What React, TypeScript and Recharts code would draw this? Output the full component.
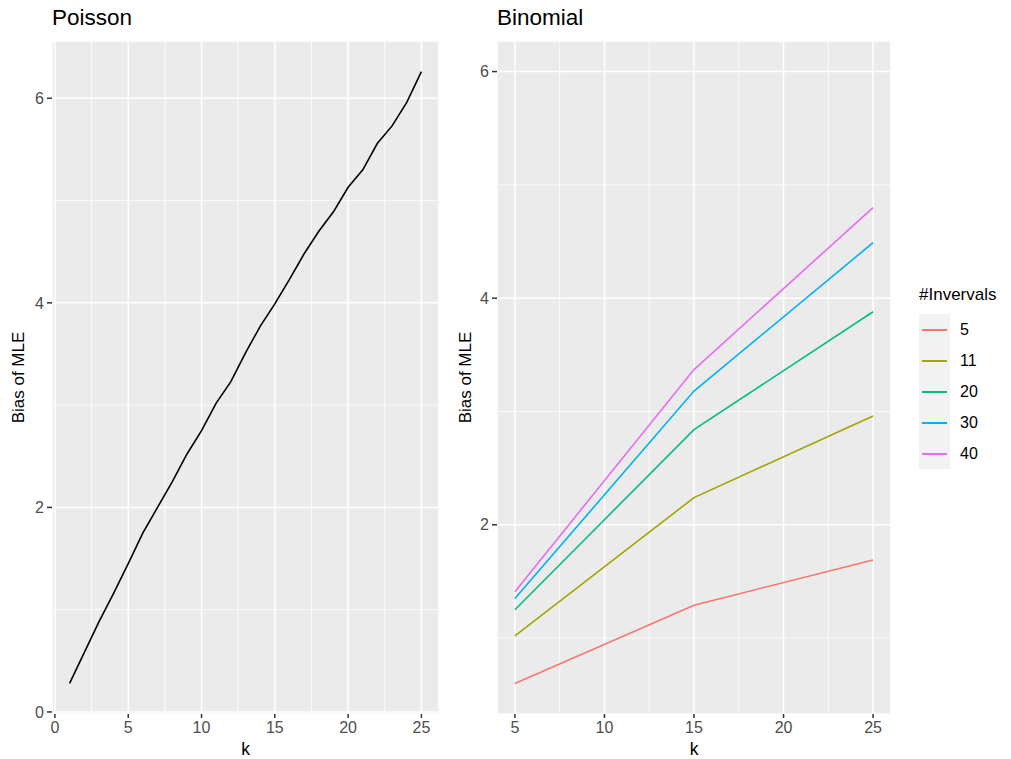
import React from "react";
import {
  LineChart,
  Line,
  XAxis,
  YAxis,
  CartesianGrid,
  ReferenceLine,
} from "recharts";

// Poisson panel
const poissonK = [1, 2, 3, 4, 5, 6, 7, 8, 9, 10, 11, 12, 13, 14, 15, 16, 17, 18, 19, 20, 21, 22, 23, 24, 25];
const poissonBias = [
  0.28, 0.58, 0.88, 1.16, 1.45, 1.75, 2.0, 2.25, 2.52, 2.75, 3.02, 3.23, 3.51,
  3.77, 3.99, 4.23, 4.48, 4.7, 4.89, 5.13, 5.3, 5.56, 5.73, 5.96, 6.26,
];

// Binomial panel
const binomK = [5, 15, 25];
const intervals = ["5", "11", "20", "30", "40"];
const bias5 = [0.6, 1.29, 1.69];
const bias11 = [1.02, 2.24, 2.96];
const bias20 = [1.25, 2.84, 3.88];
const bias30 = [1.35, 3.18, 4.49];
const bias40 = [1.41, 3.37, 4.8];
const intervalColors = ["#F8766D", "#A3A500", "#00BF7D", "#00B0F6", "#E76BF3"];

const poissonTicksX = [0, 5, 10, 15, 20, 25];
const poissonTicksY = [0, 2, 4, 6];
const poissonMinorX = [2.5, 7.5, 12.5, 17.5, 22.5];
const poissonMinorY = [1, 3, 5];
const binomTicksX = [5, 10, 15, 20, 25];
const binomTicksY = [2, 4, 6];
const binomMinorX = [7.5, 12.5, 17.5, 22.5];
const binomMinorY = [1, 3, 5];

const poissonData = poissonK.map((k, i) => ({ k, bias: poissonBias[i] }));
const binomSeries = [bias5, bias11, bias20, bias30, bias40];
const binomData = binomK.map((k, i) => {
  const row: Record<string, number> = { k };
  intervals.forEach((name, j) => {
    row["n" + name] = binomSeries[j][i];
  });
  return row;
});

const FONT = "'Liberation Sans', Arial, Helvetica, sans-serif";
const tickStyle = { fill: "#4D4D4D", fontSize: 16, fontFamily: FONT };
const tickLineStyle = { stroke: "#333333", strokeWidth: 1.5 };

const yLabel = (props: any) => {
  const vb = props.viewBox;
  const cx = vb.x + 18;
  const cy = vb.y + vb.height / 2;
  return (
    <text
      x={cx}
      y={cy}
      transform={`rotate(-90, ${cx}, ${cy})`}
      textAnchor="middle"
      dominantBaseline="central"
      fill="#000"
      fontSize={17}
      fontFamily={FONT}
    >
      Bias of MLE
    </text>
  );
};

const xLabel = (props: any) => {
  const vb = props.viewBox;
  return (
    <text
      x={vb.x + vb.width / 2}
      y={vb.y + 41}
      textAnchor="middle"
      fill="#000"
      fontSize={17.5}
      fontFamily={FONT}
    >
      k
    </text>
  );
};

function PoissonPanel() {
  return (
    <LineChart
      width={447}
      height={759}
      data={poissonData}
      margin={{ top: 41, right: 8, bottom: 0, left: 0 }}
    >
      <CartesianGrid fill="#EBEBEB" stroke="#FFFFFF" strokeWidth={1.5} />
      {poissonMinorX.map((v) => (
        <ReferenceLine key={"mx" + v} x={v} stroke="#FFFFFF" strokeWidth={0.8} />
      ))}
      {poissonMinorY.map((v) => (
        <ReferenceLine key={"my" + v} y={v} stroke="#FFFFFF" strokeWidth={0.8} />
      ))}
      <XAxis
        dataKey="k"
        type="number"
        domain={[-0.2, 26.2]}
        ticks={poissonTicksX}
        allowDataOverflow
        height={45}
        axisLine={false}
        tickSize={4}
        tickMargin={4}
        tick={tickStyle}
        tickLine={tickLineStyle}
        label={{ content: xLabel }}
      />
      <YAxis
        type="number"
        domain={[-0.02, 6.56]}
        ticks={poissonTicksY}
        allowDataOverflow
        width={52}
        axisLine={false}
        tickSize={5}
        tickMargin={3}
        tick={tickStyle}
        tickLine={tickLineStyle}
        label={{ content: yLabel }}
      />
      <Line
        dataKey="bias"
        stroke="#000000"
        strokeWidth={1.6}
        dot={false}
        isAnimationActive={false}
      />
    </LineChart>
  );
}

function BinomialPanel() {
  return (
    <LineChart
      width={564}
      height={759}
      data={binomData}
      margin={{ top: 41, right: 120, bottom: 0, left: 0 }}
    >
      <CartesianGrid fill="#EBEBEB" stroke="#FFFFFF" strokeWidth={1.5} />
      {binomMinorX.map((v) => (
        <ReferenceLine key={"mx" + v} x={v} stroke="#FFFFFF" strokeWidth={0.8} />
      ))}
      {binomMinorY.map((v) => (
        <ReferenceLine key={"my" + v} y={v} stroke="#FFFFFF" strokeWidth={0.8} />
      ))}
      <XAxis
        dataKey="k"
        type="number"
        domain={[4, 26]}
        ticks={binomTicksX}
        allowDataOverflow
        height={45}
        axisLine={false}
        tickSize={4}
        tickMargin={4}
        tick={tickStyle}
        tickLine={tickLineStyle}
        label={{ content: xLabel }}
      />
      <YAxis
        type="number"
        domain={[0.33, 6.27]}
        ticks={binomTicksY}
        allowDataOverflow
        width={50}
        axisLine={false}
        tickSize={5}
        tickMargin={3}
        tick={tickStyle}
        tickLine={tickLineStyle}
        label={{ content: yLabel }}
      />
      {intervals.map((name, j) => (
        <Line
          key={name}
          dataKey={"n" + name}
          stroke={intervalColors[j]}
          strokeWidth={1.6}
          dot={false}
          isAnimationActive={false}
        />
      ))}
    </LineChart>
  );
}

function IntervalLegend() {
  return (
    <div style={{ position: "absolute", left: 919, top: 283, fontFamily: FONT }}>
      <div style={{ fontSize: 17, color: "#000", lineHeight: "24px", whiteSpace: "nowrap" }}>
        #Invervals
      </div>
      <div style={{ marginTop: 7 }}>
        {intervals.map((name, j) => (
          <div key={name} style={{ display: "flex", alignItems: "center", height: 31 }}>
            <div
              style={{
                width: 31,
                height: 31,
                background: "#F2F2F2",
                display: "flex",
                alignItems: "center",
                justifyContent: "center",
              }}
            >
              <div style={{ width: 25, height: 2, background: intervalColors[j] }} />
            </div>
            <span style={{ marginLeft: 10, fontSize: 16, color: "#000" }}>{name}</span>
          </div>
        ))}
      </div>
    </div>
  );
}

export default function App() {
  return (
    <div
      style={{
        position: "absolute",
        left: 0,
        top: 0,
        width: 1011,
        height: 759,
        background: "#FFFFFF",
        overflow: "hidden",
      }}
    >
      <div style={{ position: "absolute", left: 0, top: 0 }}>
        <PoissonPanel />
      </div>
      <div style={{ position: "absolute", left: 447, top: 0 }}>
        <BinomialPanel />
      </div>
      <div
        style={{ position: "absolute", left: 52, top: 5, fontFamily: FONT, fontSize: 22.5, color: "#000" }}
      >
        Poisson
      </div>
      <div
        style={{ position: "absolute", left: 497, top: 5, fontFamily: FONT, fontSize: 22.5, color: "#000" }}
      >
        Binomial
      </div>
      <IntervalLegend />
    </div>
  );
}
